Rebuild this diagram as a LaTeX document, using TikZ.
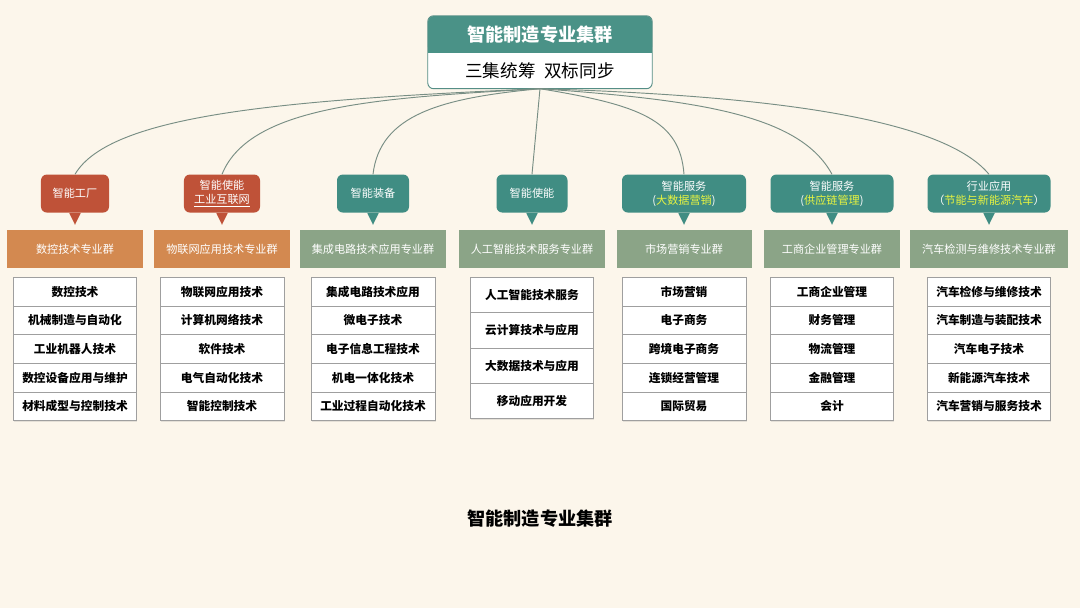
\documentclass[tikz,border=0pt]{standalone}
\usepackage{fontspec}
\setmainfont{Noto Sans CJK SC}
\usetikzlibrary{positioning,shadows}
\definecolor{bgcream}{RGB}{252,246,235}
\definecolor{topteal}{RGB}{74,146,135}
\definecolor{bubbleteal}{RGB}{64,141,131}
\definecolor{bubblered}{RGB}{191,82,56}
\definecolor{barorange}{RGB}{211,137,80}
\definecolor{bargreen}{RGB}{139,164,135}
\definecolor{tagyellow}{RGB}{232,244,64}
\definecolor{linkgray}{RGB}{120,142,132}
\newcommand{\hl}[1]{\textcolor{tagyellow}{#1}}
% header name, list width, row height, courses
\newcommand{\majorlist}[4]{%
  \coordinate[below=0.27cm of #1] (#1-0);
  \foreach \crs [count=\i] in {#4} {
    \pgfmathtruncatemacro{\prev}{\i-1}
    \node[major,minimum width=#2,minimum height=#3,below=0pt of #1-\prev] (#1-\i) {\crs};
  }
}

\begin{document}
\begin{tikzpicture}[
    x=0.03cm,y=-0.03cm,
    titlebar/.style={rectangle,rounded corners=5pt,fill=topteal,text=white,
      minimum width=6.72cm,minimum height=1.11cm,font=\fontsize{15.5}{18}\selectfont\bfseries},
    subbar/.style={rectangle,rounded corners=5pt,fill=white,
      minimum width=6.72cm,minimum height=1.05cm,font=\fontsize{15}{18}\selectfont},
    bubble/.style={rectangle,rounded corners=5pt,fill=#1,text=white,align=center,
      minimum height=1.14cm,inner sep=1pt,font=\fontsize{9.5}{12}\selectfont},
    groupbar/.style={rectangle,fill=#1,text=white,minimum height=1.14cm,
      font=\fontsize{9.5}{12}\selectfont},
    major/.style={rectangle,draw=gray!75,line width=0.6pt,fill=white,outer sep=0pt,
      font=\fontsize{10}{12}\selectfont\bfseries,
      drop shadow={opacity=0.18,shadow xshift=0.8pt,shadow yshift=-0.8pt}},
    link/.style={draw=linkgray,line width=0.8pt},
    caption/.style={font=\fontsize{15.5}{18}\selectfont\bfseries}
  ]
    \fill[bgcream] (0,0) rectangle (1080,608);

    % top box
    \node[titlebar] (title) at (540,34.5) {智能制造专业集群};
    \node[subbar,below=0pt of title] (motto) {三集统筹\enspace 双标同步};
    \fill[topteal] ([yshift=6pt]title.south west) rectangle (title.south east);
    \fill[white] (motto.north west) rectangle ([yshift=-6pt]motto.north east);
    \draw[topteal!80!gray,line width=0.8pt,rounded corners=5pt] (title.north west) rectangle (motto.south east);

    % group bars
    \node[groupbar=barorange,minimum width=4.05cm] (grp1) at (75,249) {数控技术专业群};
    \node[groupbar=barorange,minimum width=4.05cm] (grp2) at (222,249) {物联网应用技术专业群};
    \node[groupbar=bargreen,minimum width=4.35cm] (grp3) at (373,249) {集成电路技术应用专业群};
    \node[groupbar=bargreen,minimum width=4.38cm] (grp4) at (532,249) {人工智能技术服务专业群};
    \node[groupbar=bargreen,minimum width=4.05cm] (grp5) at (684,249) {市场营销专业群};
    \node[groupbar=bargreen,minimum width=4.08cm] (grp6) at (832,249) {工商企业管理专业群};
    \node[groupbar=bargreen,minimum width=4.74cm] (grp7) at (989,249) {汽车检测与维修技术专业群};

    % bubbles
    \node[bubble=bubblered,minimum width=2.04cm,above=0.51cm of grp1] (tip1) {智能工厂};
    \node[bubble=bubblered,minimum width=2.28cm,above=0.51cm of grp2] (tip2) {智能使能\\\underline{工业互联网}};
    \node[bubble=bubbleteal,minimum width=2.16cm,above=0.51cm of grp3] (tip3) {智能装备};
    \node[bubble=bubbleteal,minimum width=2.13cm,above=0.51cm of grp4] (tip4) {智能使能};
    \node[bubble=bubbleteal,minimum width=3.72cm,above=0.51cm of grp5] (tip5) {智能服务\\(\hl{大数据营销})};
    \node[bubble=bubbleteal,minimum width=3.69cm,above=0.51cm of grp6] (tip6) {智能服务\\(\hl{供应链管理})};
    \node[bubble=bubbleteal,minimum width=3.69cm,above=0.51cm of grp7] (tip7) {行业应用\\（\hl{节能与新能源汽车}）};
    \foreach \c/\col in {1/bubblered,2/bubblered,3/bubbleteal,4/bubbleteal,5/bubbleteal,6/bubbleteal,7/bubbleteal}
      \fill[\col] ([xshift=-5pt]tip\c.south) -- ([xshift=5pt]tip\c.south) -- ([yshift=-0.36cm]tip\c.south) -- cycle;

    % links
    \draw[link] (motto.south) .. controls (280,100) and (110,115) .. (tip1.north);
    \draw[link] (motto.south) .. controls (380,98) and (250,105) .. (tip2.north);
    \draw[link] (motto.south) .. controls (440,98) and (380,115) .. (tip3.north);
    \draw[link] (motto.south) -- (tip4.north);
    \draw[link] (motto.south) .. controls (640,105) and (680,120) .. (tip5.north);
    \draw[link] (motto.south) .. controls (700,100) and (800,115) .. (tip6.north);
    \draw[link] (motto.south) .. controls (750,95) and (940,115) .. (tip7.north);

    % course lists
    \majorlist{grp1}{3.69cm}{0.86cm}{数控技术,机械制造与自动化,工业机器人技术,数控设备应用与维护,材料成型与控制技术}
    \majorlist{grp2}{3.72cm}{0.86cm}{物联网应用技术,计算机网络技术,软件技术,电气自动化技术,智能控制技术}
    \majorlist{grp3}{3.72cm}{0.86cm}{集成电路技术应用,微电子技术,电子信息工程技术,机电一体化技术,工业过程自动化技术}
    \majorlist{grp4}{3.69cm}{1.06cm}{人工智能技术服务,云计算技术与应用,大数据技术与应用,移动应用开发}
    \majorlist{grp5}{3.72cm}{0.86cm}{市场营销,电子商务,跨境电子商务,连锁经营管理,国际贸易}
    \majorlist{grp6}{3.69cm}{0.86cm}{工商企业管理,财务管理,物流管理,金融管理,会计}
    \majorlist{grp7}{3.69cm}{0.86cm}{汽车检修与维修技术,汽车制造与装配技术,汽车电子技术,新能源汽车技术,汽车营销与服务技术}

    \node[caption] (cap) at (540,519) {智能制造专业集群};
  \end{tikzpicture}
\end{document}
